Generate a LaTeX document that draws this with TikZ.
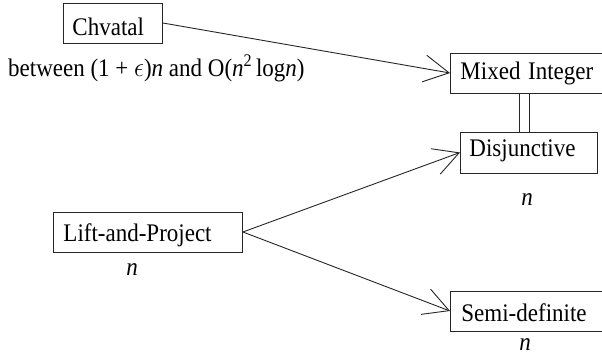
\documentclass[tikz,border=0pt]{standalone}
\usepackage{fontspec}
\setmainfont{Liberation Serif}
\usetikzlibrary{arrows.meta,calc}
\newcommand\vst[1]{\scalebox{1}[1.1]{#1}}
\tikzset{
  ln/.style={draw=black!85, line width=0.9pt},
  box/.style n args={4}{ln, rectangle, anchor=base west, inner ysep=0pt, inner xsep=#1,
     text width=#2, text height=#3, text depth=#4, align=left,
     font=\fontsize{23}{26}\selectfont},
  lbl/.style={anchor=base, inner sep=0pt, font=\fontsize{23}{26}\selectfont},
  arr/.style={ln, -{Straight Barb[length=25pt,width=27pt,line width=0.9pt]}},
}
\begin{document}
\begin{tikzpicture}[x=1pt,y=-1pt]
\useasboundingbox (0,0) rectangle (602,359);
\node[box={9pt}{81pt}{32pt}{8pt}] (chv) at (63,35) {\vst{Chvatal}};
\node[box={10pt}{134pt}{26.3pt}{13.7pt}] (mi) at (450,79.3) {\vst{Mixed Integer}};
\node[box={9pt}{119pt}{24pt}{17pt}] (dj) at (460,156) {\vst{Disjunctive}};
\node[box={10pt}{169pt}{29.7pt}{10.3pt}] (lp) at (53,241.7) {\vst{Lift-and-Project}};
\node[box={11pt}{132pt}{30.7pt}{9.3pt}] (sd) at (450,321.7) {\vst{Semi-definite}};
\node[lbl, anchor=base west] (bt) at (8,76) {\vst{between (1 + $\epsilon$)\textit{n} and O(\textit{n}\textsuperscript{2}\,log\textit{n})}};
\node[lbl] (ndj) at (527,205) {\vst{\textit{n}}};
\node[lbl] (nlp) at (132,275) {\vst{\textit{n}}};
\node[lbl] (nsd) at (525,350) {\vst{\textit{n}}};
\coordinate (dla) at (519,0);
\coordinate (dlb) at (529,0);
\draw[arr] (chv.east) -- (mi.west);
\draw[arr] (lp.east) -- (dj.west);
\draw[arr] (lp.east) -- (sd.west);
\draw[ln] (mi.south -| dla) -- (dj.north -| dla);
\draw[ln] (mi.south -| dlb) -- (dj.north -| dlb);
\end{tikzpicture}
\end{document}
